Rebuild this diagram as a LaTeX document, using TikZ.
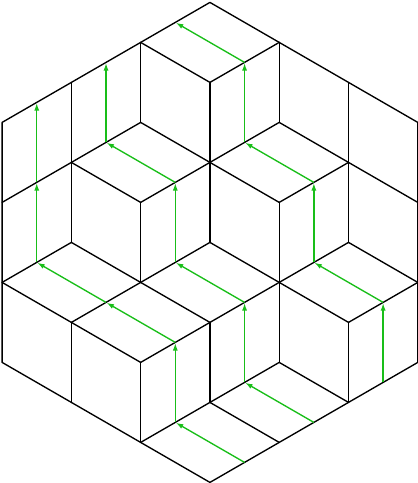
\documentclass[tikz,border=0pt]{standalone}
\usetikzlibrary{arrows.meta}
\definecolor{pathgreen}{RGB}{25,190,25}
\begin{document}
\begin{tikzpicture}[x=1pt,y=-1pt,
  edge/.style={line width=1.35pt,black,line cap=round,line join=round},
  flow/.style={line width=1.35pt,pathgreen,-{Latex[length=7.5pt,width=5pt]},shorten >=0.6pt}]
\useasboundingbox (0,0) rectangle (418,483);
\def\hx{69.282}
% lattice vertices v<c>-<m> and midpoints u<c>-<m> of up-right edges starting at (c,m)
\foreach \c in {0,...,6}{
  \foreach \m in {0,...,12}{
    \coordinate (v\c-\m) at ({2.1+\c*\hx},{2.4+40*\m});
    \coordinate (u\c-\m) at ({2.1+(\c+0.5)*\hx},{2.4+40*\m-20});
  }
}
% boundary
\draw[edge] (v0-3) -- (v3-0) -- (v6-3) -- (v6-9) -- (v3-12) -- (v0-9) -- cycle;
% vertical edges
\foreach \a/\b in {v1-2/v1-4, v1-4/v1-6, v1-8/v1-10,
                   v2-1/v2-3, v2-5/v2-7, v2-9/v2-11,
                   v3-2/v3-4, v3-4/v3-6, v3-8/v3-10,
                   v4-1/v4-3, v4-5/v4-7, v4-7/v4-9,
                   v5-2/v5-4, v5-4/v5-6, v5-8/v5-10}
  \draw[edge] (\a) -- (\b);
% up-right edges
\foreach \a/\b in {v2-11/v3-10, v2-9/v3-8, v1-8/v2-7, v0-7/v1-6, v0-5/v1-4,
                   v3-10/v4-9, v3-8/v4-7, v2-7/v3-6, v2-5/v3-4, v1-4/v2-3,
                   v5-8/v6-7, v4-7/v5-6, v4-5/v5-4, v3-4/v4-3, v3-2/v4-1}
  \draw[edge] (\a) -- (\b);
% down-right edges
\foreach \a/\b in {v2-1/v3-2, v2-3/v3-4, v1-4/v2-5, v1-6/v2-7, v0-7/v1-8,
                   v2-7/v3-8, v4-3/v5-4, v3-4/v4-5, v3-6/v4-7, v5-6/v6-7,
                   v4-7/v5-8, v1-8/v2-9, v3-10/v4-11, v4-9/v5-10, v5-4/v6-5}
  \draw[edge] (\a) -- (\b);
% green paths
\foreach \a/\b in {u3-12/u2-11, u2-11/u2-9, u2-9/u1-8, u1-8/u0-7, u0-7/u0-5, u0-5/u0-3,
                   u4-11/u3-10, u3-10/u3-8, u3-8/u2-7, u2-7/u2-5, u2-5/u1-4, u1-4/u1-2,
                   u5-10/u5-8, u5-8/u4-7, u4-7/u4-5, u4-5/u3-4, u3-4/u3-2, u3-2/u2-1}
  \draw[flow] (\a) -- (\b);
\end{tikzpicture}
\end{document}
